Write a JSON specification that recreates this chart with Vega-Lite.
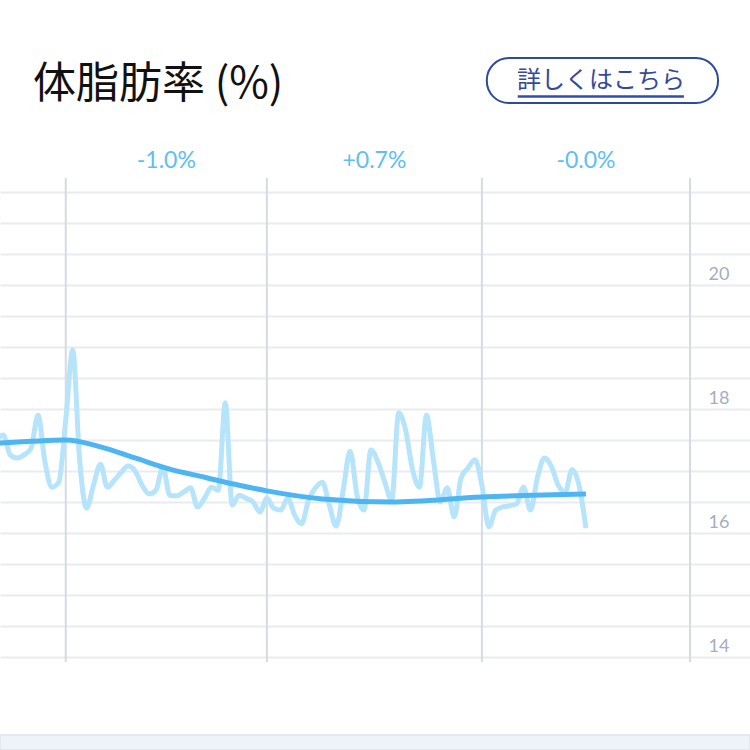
{
  "$schema": "https://vega.github.io/schema/vega-lite/v6.json",
  "width": 750,
  "height": 572,
  "autosize": "none",
  "padding": {"top": 178, "left": 0, "right": 0, "bottom": 0},
  "background": "#ffffff",
  "config": {
    "view": {"stroke": null},
    "font": "Lato"
  },
  "title": {
    "text": "体脂肪率 (%)",
    "anchor": "start",
    "frame": "group",
    "dx": 33,
    "offset": -84,
    "baseline": "alphabetic",
    "font": "Noto Sans CJK JP",
    "fontSize": 43,
    "fontWeight": "normal",
    "color": "#111111"
  },
  "datasets": {
    "daily": [
      {"date": "2020-01-22", "fat": 17.50}, {"date": "2020-01-23", "fat": 17.58},
      {"date": "2020-01-24", "fat": 17.26}, {"date": "2020-01-25", "fat": 17.21},
      {"date": "2020-01-26", "fat": 17.26}, {"date": "2020-01-27", "fat": 17.37},
      {"date": "2020-01-28", "fat": 17.90}, {"date": "2020-01-29", "fat": 17.15},
      {"date": "2020-01-30", "fat": 16.74}, {"date": "2020-01-31", "fat": 16.82},
      {"date": "2020-02-01", "fat": 17.82}, {"date": "2020-02-02", "fat": 18.95},
      {"date": "2020-02-03", "fat": 17.18}, {"date": "2020-02-04", "fat": 16.40},
      {"date": "2020-02-05", "fat": 16.77}, {"date": "2020-02-06", "fat": 17.11},
      {"date": "2020-02-07", "fat": 16.74}, {"date": "2020-02-08", "fat": 16.85},
      {"date": "2020-02-09", "fat": 16.98}, {"date": "2020-02-10", "fat": 17.08},
      {"date": "2020-02-11", "fat": 17.00}, {"date": "2020-02-12", "fat": 16.77},
      {"date": "2020-02-13", "fat": 16.63}, {"date": "2020-02-14", "fat": 16.69},
      {"date": "2020-02-15", "fat": 17.06}, {"date": "2020-02-16", "fat": 16.61},
      {"date": "2020-02-17", "fat": 16.60}, {"date": "2020-02-18", "fat": 16.66},
      {"date": "2020-02-19", "fat": 16.73}, {"date": "2020-02-20", "fat": 16.42},
      {"date": "2020-02-21", "fat": 16.56}, {"date": "2020-02-22", "fat": 16.74},
      {"date": "2020-02-23", "fat": 16.69}, {"date": "2020-02-24", "fat": 18.10},
      {"date": "2020-02-25", "fat": 16.45}, {"date": "2020-02-26", "fat": 16.61},
      {"date": "2020-02-27", "fat": 16.56}, {"date": "2020-02-28", "fat": 16.50},
      {"date": "2020-02-29", "fat": 16.34}, {"date": "2020-03-01", "fat": 16.56},
      {"date": "2020-03-02", "fat": 16.40}, {"date": "2020-03-03", "fat": 16.37},
      {"date": "2020-03-04", "fat": 16.56}, {"date": "2020-03-05", "fat": 16.29},
      {"date": "2020-03-06", "fat": 16.15}, {"date": "2020-03-07", "fat": 16.53},
      {"date": "2020-03-08", "fat": 16.73}, {"date": "2020-03-09", "fat": 16.82},
      {"date": "2020-03-10", "fat": 16.45}, {"date": "2020-03-11", "fat": 16.11},
      {"date": "2020-03-12", "fat": 16.69}, {"date": "2020-03-13", "fat": 17.32},
      {"date": "2020-03-14", "fat": 16.61}, {"date": "2020-03-15", "fat": 16.37},
      {"date": "2020-03-16", "fat": 17.34}, {"date": "2020-03-17", "fat": 17.15},
      {"date": "2020-03-18", "fat": 16.82}, {"date": "2020-03-19", "fat": 16.53},
      {"date": "2020-03-20", "fat": 17.94}, {"date": "2020-03-21", "fat": 17.66},
      {"date": "2020-03-22", "fat": 17.02}, {"date": "2020-03-23", "fat": 16.74},
      {"date": "2020-03-24", "fat": 17.90}, {"date": "2020-03-25", "fat": 17.18},
      {"date": "2020-03-26", "fat": 16.50}, {"date": "2020-03-27", "fat": 16.73},
      {"date": "2020-03-28", "fat": 16.26}, {"date": "2020-03-29", "fat": 16.89},
      {"date": "2020-03-30", "fat": 17.05}, {"date": "2020-03-31", "fat": 17.18},
      {"date": "2020-04-01", "fat": 16.77}, {"date": "2020-04-02", "fat": 16.10},
      {"date": "2020-04-03", "fat": 16.37}, {"date": "2020-04-04", "fat": 16.42},
      {"date": "2020-04-05", "fat": 16.44}, {"date": "2020-04-06", "fat": 16.47},
      {"date": "2020-04-07", "fat": 16.74}, {"date": "2020-04-08", "fat": 16.37},
      {"date": "2020-04-09", "fat": 16.89}, {"date": "2020-04-10", "fat": 17.21},
      {"date": "2020-04-11", "fat": 17.08}, {"date": "2020-04-12", "fat": 16.77},
      {"date": "2020-04-13", "fat": 16.66}, {"date": "2020-04-14", "fat": 17.02},
      {"date": "2020-04-15", "fat": 16.77}, {"date": "2020-04-16", "fat": 16.08}
    ],
    "trend": [
      {"date": "2020-01-22", "trend": 17.45},
      {"date": "2020-01-27", "trend": 17.48},
      {"date": "2020-02-01", "trend": 17.50},
      {"date": "2020-02-06", "trend": 17.39},
      {"date": "2020-02-11", "trend": 17.21},
      {"date": "2020-02-16", "trend": 17.03},
      {"date": "2020-02-21", "trend": 16.90},
      {"date": "2020-02-26", "trend": 16.77},
      {"date": "2020-03-01", "trend": 16.68},
      {"date": "2020-03-09", "trend": 16.55},
      {"date": "2020-03-19", "trend": 16.50},
      {"date": "2020-04-01", "trend": 16.58},
      {"date": "2020-04-16", "trend": 16.63}
    ],
    "months": [
      {"start": "2020-02-01", "mid": "2020-02-15T12:00:00Z", "change": "-1.0%"},
      {"start": "2020-03-01", "mid": "2020-03-16T12:00:00Z", "change": "+0.7%"},
      {"start": "2020-04-01", "mid": "2020-04-16T00:00:00Z", "change": "-0.0%"},
      {"start": "2020-05-01", "mid": null, "change": null}
    ]
  },
  "layer": [
    {
      "data": {"values": [{}]},
      "mark": {"type": "rect", "fill": "#eef2f9", "stroke": "#dfe4ec", "strokeWidth": 1.5},
      "encoding": {
        "y": {"datum": 12.742, "type": "quantitative", "title": null},
        "y2": {"datum": 12.5}
      }
    },
    {
      "data": {"name": "months"},
      "mark": {"type": "rule", "color": "#d6dbe3", "strokeWidth": 2},
      "encoding": {
        "x": {
          "field": "start",
          "type": "temporal",
          "axis": null,
          "scale": {
            "domain": [
              {"year": 2020, "month": 1, "date": 22, "hours": 12, "minutes": 30, "utc": true},
              {"year": 2020, "month": 5, "date": 9, "hours": 15, "minutes": 40, "utc": true}
            ]
          }
        },
        "y": {"datum": 21.726, "type": "quantitative", "title": null},
        "y2": {"datum": 13.92}
      }
    },
    {
      "data": {"name": "daily"},
      "mark": {"type": "line", "color": "#b6e4fa", "strokeWidth": 5, "interpolate": "monotone", "clip": true},
      "encoding": {
        "x": {"field": "date", "type": "temporal", "axis": null},
        "y": {
          "field": "fat",
          "type": "quantitative",
          "title": null,
          "scale": {"domain": [12.5, 21.726], "nice": false, "zero": false},
          "axis": {
            "orient": "right",
            "values": [14, 14.5, 15, 15.5, 16, 16.5, 17, 17.5, 18, 18.5, 19, 19.5, 20, 20.5, 21, 21.5],
            "tickCount": 40,
            "labelExpr": "datum.value % 2 === 0 ? format(datum.value, 'd') : ''",
            "grid": true,
            "gridColor": "#e8ebf0",
            "gridWidth": 2,
            "domain": false,
            "ticks": false,
            "tickSize": 0,
            "labelAlign": "right",
            "labelPadding": -21,
            "labelBaseline": "alphabetic",
            "labelOffset": -6,
            "labelFont": "Lato",
            "labelFontSize": 18,
            "labelColor": "#a4afbf",
            "labelOverlap": false,
            "labelFlush": false
          }
        }
      }
    },
    {
      "data": {"name": "trend"},
      "mark": {"type": "line", "color": "#4db6f2", "strokeWidth": 5, "interpolate": "monotone", "clip": true},
      "encoding": {
        "x": {"field": "date", "type": "temporal", "axis": null},
        "y": {"field": "trend", "type": "quantitative", "title": null}
      }
    },
    {
      "data": {"name": "months"},
      "transform": [{"filter": "datum.change != null"}],
      "mark": {"type": "text", "color": "#5ec0ef", "fontSize": 23, "font": "Lato", "baseline": "middle", "align": "center"},
      "encoding": {
        "x": {"field": "mid", "type": "temporal", "axis": null},
        "y": {"datum": 22.0, "type": "quantitative", "title": null},
        "text": {"field": "change"}
      }
    },
    {
      "data": {"values": [{}]},
      "mark": {"type": "rect", "fill": "#ffffff", "stroke": "#2e4a9d", "strokeWidth": 2, "cornerRadius": 22},
      "encoding": {
        "x": {"datum": {"year": 2020, "month": 4, "date": 1, "hours": 17, "utc": true}, "type": "temporal", "axis": null},
        "x2": {"datum": {"year": 2020, "month": 5, "date": 5, "hours": 1, "utc": true}},
        "y": {"datum": 23.661, "type": "quantitative", "title": null},
        "y2": {"datum": 22.935}
      }
    },
    {
      "data": {"values": [{"label": "詳しくはこちら"}]},
      "mark": {"type": "text", "color": "#34499b", "fontSize": 24, "font": "Noto Sans CJK JP", "baseline": "middle", "align": "center"},
      "encoding": {
        "x": {"datum": {"year": 2020, "month": 4, "date": 18, "hours": 4, "utc": true}, "type": "temporal", "axis": null},
        "y": {"datum": 23.29, "type": "quantitative", "title": null},
        "text": {"field": "label"}
      }
    },
    {
      "data": {"values": [{}]},
      "mark": {"type": "rule", "color": "#2d4eb0", "strokeWidth": 2.5},
      "encoding": {
        "x": {"datum": {"year": 2020, "month": 4, "date": 6, "hours": 4, "utc": true}, "type": "temporal", "axis": null},
        "x2": {"datum": {"year": 2020, "month": 4, "date": 30, "hours": 3, "utc": true}},
        "y": {"datum": 23.04, "type": "quantitative", "title": null}
      }
    }
  ]
}
